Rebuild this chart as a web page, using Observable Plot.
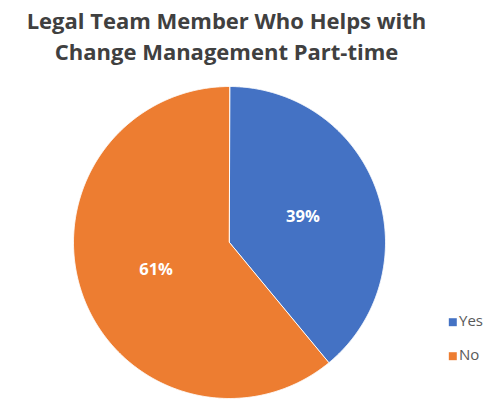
<!DOCTYPE html>
<html><head><meta charset="utf-8">
<script src="https://cdn.jsdelivr.net/npm/d3@7"></script>
<script src="https://cdn.jsdelivr.net/npm/@observablehq/plot@0.6"></script>
<style>body{margin:0;background:#fff}</style>
</head><body><div id="chart"></div>
<script>
const categories = ["Yes", "No"];
const shares = [39, 61];
const labels = ["39%", "61%"];
const colors = ["#4472C4", "#ED7D31"];
const titleLines = ["Legal Team Member Who Helps with", "Change Management Part-time"];

const total = d3.sum(shares);
let start = 0;
const slices = [];
const labelPts = [];
categories.forEach((c, i) => {
  const a0 = start / total * 2 * Math.PI;
  const a1 = (start + shares[i]) / total * 2 * Math.PI;
  const pts = [{cat: c, x: 0, y: 0}];
  const n = Math.max(2, Math.ceil((a1 - a0) / 0.005));
  for (let k = 0; k <= n; k++) {
    const a = a0 + (a1 - a0) * k / n;
    pts.push({cat: c, x: Math.sin(a), y: Math.cos(a)});
  }
  slices.push(pts);
  const am = (a0 + a1) / 2;
  labelPts.push({cat: c, label: labels[i], x: 0.5 * Math.sin(am), y: 0.5 * Math.cos(am)});
  start += shares[i];
});

const font = "'Open Sans', sans-serif";
const marks = [];
slices.forEach((pts, i) => {
  marks.push(Plot.line(pts, {x: "x", y: "y", fill: colors[i], stroke: "white", strokeWidth: 1, curve: "linear-closed"}));
});
marks.push(Plot.text(labelPts, {x: "x", y: "y", text: "label", fill: "white", fontSize: 16.5, fontWeight: "bold", fontFamily: font, dy: 1}));
titleLines.forEach((t, i) => {
  marks.push(Plot.text([t], {frameAnchor: "top", text: d => d, dx: -24, dy: 28 + i * 31, fontSize: 22, fontWeight: "bold", fill: "#404040", fontFamily: font, lineAnchor: "bottom"}));
});
categories.forEach((c, i) => {
  marks.push(Plot.dot([c], {frameAnchor: "top-left", dx: 452.3, dy: 321.7 + i * 34, symbol: "square", r: 4.5, fill: colors[i], stroke: null}));
  marks.push(Plot.text([c], {frameAnchor: "top-left", text: d => d, dx: 458.5, dy: 325.5 + i * 34, textAnchor: "start", lineAnchor: "bottom", fontSize: 15, fill: "#595959", fontFamily: font}));
});

const chart = Plot.plot({
  width: 500, height: 410,
  margin: 0,
  x: {domain: [-1, 1], range: [73, 385], axis: null},
  y: {domain: [-1, 1], range: [398, 86], axis: null},
  style: {background: "white"},
  marks
});
document.getElementById("chart").append(chart);
</script>
</body></html>
